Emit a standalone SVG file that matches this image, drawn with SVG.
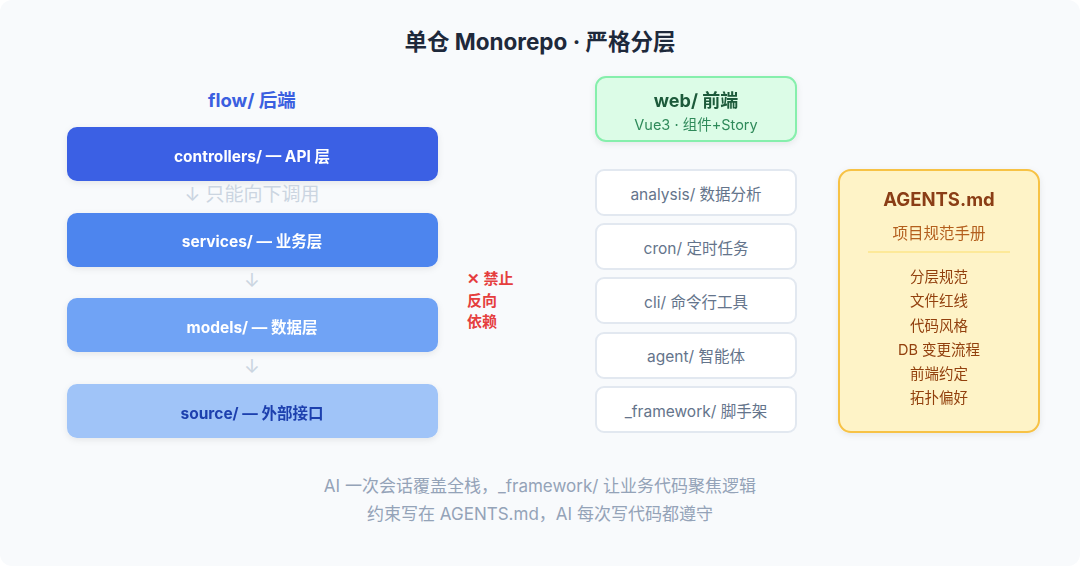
<svg xmlns="http://www.w3.org/2000/svg" width="1080" height="566" viewBox="0 0 1080 566">
<defs>
<filter id="sh" x="-10%" y="-20%" width="120%" height="150%">
<feDropShadow dx="0" dy="2" stdDeviation="3" flood-color="#0f172a" flood-opacity="0.08"/>
</filter>
<style>
text{font-family:Inter,"Noto Sans","Noto Sans CJK SC",sans-serif;text-anchor:middle;dominant-baseline:central}
.layer{filter:url(#sh)}
.lt{font-size:15.5px;font-weight:700;fill:#ffffff}
.arr{font-size:19px;fill:#cbd5e1}
.mod rect{fill:#ffffff;stroke:#e2e8f0;stroke-width:2}
.mod text{font-size:15.5px;fill:#64748b}
.ag{font-size:14.5px;fill:#92400e}
.foot{font-size:17px;fill:#94a3b8}
.red{font-size:15px;font-weight:700;fill:#e53e3e;text-anchor:start}
</style>
</defs>
<rect x="0" y="0" width="1080" height="566" rx="12" fill="#f8fafc"/>
<text x="540" y="41" font-size="22.5" font-weight="700" fill="#1e293b">单仓 Monorepo · 严格分层</text>

<g id="backend">
<text x="252" y="100" font-size="18.5" font-weight="700" fill="#3b5fe0">flow/ 后端</text>
</g>
<g id="controllers" class="layer">
<rect x="67" y="127" width="371" height="54" rx="10" fill="#3a60e4"/>
<text class="lt" x="252" y="156">controllers/ — API 层</text>
</g>
<g id="services" class="layer">
<rect x="67" y="213" width="371" height="54" rx="10" fill="#4e85ee"/>
<text class="lt" x="252" y="241">services/ — 业务层</text>
</g>
<g id="models" class="layer">
<rect x="67" y="298" width="371" height="54" rx="10" fill="#70a3f5"/>
<text class="lt" x="252" y="327">models/ — 数据层</text>
</g>
<g id="source" class="layer">
<rect x="67" y="384" width="371" height="54" rx="10" fill="#a0c4f8"/>
<text class="lt" x="252" y="413" style="fill:#1e3fae">source/ — 外部接口</text>
</g>

<g id="connectors">
<text class="arr" x="252" y="194">↓ 只能向下调用</text>
<text class="arr" x="252" y="280">↓</text>
<text class="arr" x="252" y="366">↓</text>
</g>

<g id="forbid">
<text class="red" x="467" y="278">✕ 禁止</text>
<text class="red" x="467" y="300">反向</text>
<text class="red" x="467" y="321">依赖</text>
</g>

<g id="web" class="layer">
<rect x="596" y="77" width="200" height="64" rx="10" fill="#dcfce7" stroke="#86efac" stroke-width="2"/>
<text x="696" y="100" font-size="18" font-weight="700" fill="#1d5a3a">web/ 前端</text>
<text x="696" y="124" font-size="14.5" fill="#2f8a5a">Vue3 · 组件+Story</text>
</g>
<g id="analysis" class="mod"><rect x="596" y="170" width="200" height="45" rx="8"/><text x="696" y="194">analysis/ 数据分析</text></g>
<g id="cron" class="mod"><rect x="596" y="224" width="200" height="45" rx="8"/><text x="696" y="248">cron/ 定时任务</text></g>
<g id="cli" class="mod"><rect x="596" y="278" width="200" height="45" rx="8"/><text x="696" y="302">cli/ 命令行工具</text></g>
<g id="agent" class="mod"><rect x="596" y="333" width="200" height="45" rx="8"/><text x="696" y="356">agent/ 智能体</text></g>
<g id="framework" class="mod"><rect x="596" y="387" width="200" height="45" rx="8"/><text x="696" y="411">_framework/ 脚手架</text></g>

<g id="agents" class="layer">
<rect x="839" y="170" width="200" height="262" rx="12" fill="#fef3c7" stroke="#f7c244" stroke-width="2"/>
<text x="939" y="199" font-size="18.5" font-weight="700" fill="#8a3d12">AGENTS.md</text>
<text x="939" y="233" font-size="15.5" fill="#b45f1f">项目规范手册</text>
<line x1="868" y1="252" x2="1010" y2="252" stroke="#fde68a" stroke-width="1.5"/>
<text class="ag" x="939" y="276">分层规范</text>
<text class="ag" x="939" y="300">文件红线</text>
<text class="ag" x="939" y="325">代码风格</text>
<text class="ag" x="939" y="349">DB 变更流程</text>
<text class="ag" x="939" y="373">前端约定</text>
<text class="ag" x="939" y="397">拓扑偏好</text>
</g>

<text class="foot" x="540" y="486">AI 一次会话覆盖全栈，_framework/ 让业务代码聚焦逻辑</text>
<text class="foot" x="540" y="514">约束写在 AGENTS.md，AI 每次写代码都遵守</text>
</svg>
